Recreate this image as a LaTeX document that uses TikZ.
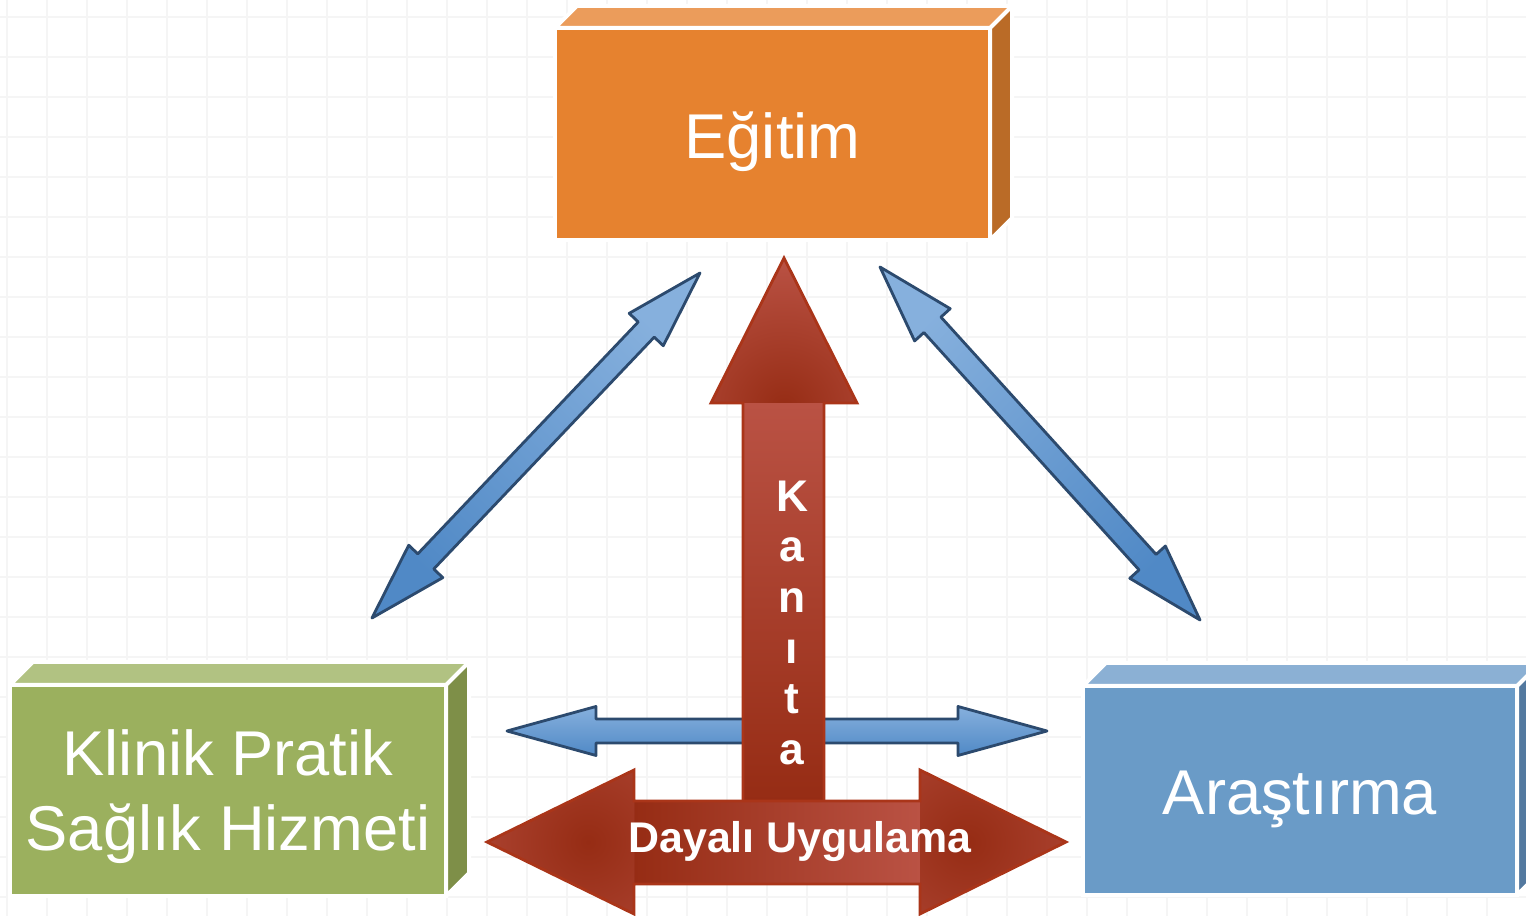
\documentclass[tikz,border=0pt]{standalone}
\usepackage{fontspec}
\setmainfont{Liberation Sans}
\usetikzlibrary{calc}
\definecolor{orangeF}{HTML}{E6822F}
\definecolor{orangeT}{HTML}{EB9C5B}
\definecolor{orangeS}{HTML}{BA6B27}
\definecolor{greenF}{HTML}{9BB05E}
\definecolor{greenT}{HTML}{B1C282}
\definecolor{greenS}{HTML}{7E8F48}
\definecolor{blueF}{HTML}{6A9BC7}
\definecolor{blueT}{HTML}{8BB0D4}
\definecolor{blueS}{HTML}{53799F}
\definecolor{redD}{HTML}{962C14}
\definecolor{redL}{HTML}{BA5244}
\definecolor{redE}{HTML}{AA3519}
\definecolor{arrowB}{HTML}{5089C6}
\definecolor{arrowBL}{HTML}{86B0DD}
\definecolor{arrowBD}{HTML}{2C4A6E}
\definecolor{gridc}{HTML}{F5F5F5}
\newcommand\dblblock[6]{%
  \coordinate (pa) at ($(#1)!#3!(#2)$);
  \coordinate (pb) at ($(#2)!#3!(#1)$);
  \path[#6] (#1) -- ($(pa)!#4!90:(#1)$) -- ($(pa)!#5!90:(#1)$)
    -- ($(pb)!#5!-90:(#2)$) -- ($(pb)!#4!-90:(#2)$) -- (#2)
    -- ($(pb)!#4!90:(#2)$) -- ($(pb)!#5!90:(#2)$)
    -- ($(pa)!#5!-90:(#1)$) -- ($(pa)!#4!-90:(#1)$) -- cycle;
}
\begin{document}
\begin{tikzpicture}[x=0.01cm,y=-0.01cm,
  boxface/.style={draw=white, line width=1.1pt, inner sep=0pt, outer sep=0pt,
    text=white, font=\fontsize{18}{21.6}\selectfont},
  sideface/.style={draw=white, line width=1.1pt, line join=round},
  barrow/.style={draw=arrowBD, line width=0.8pt, line join=round},
  redtext/.style={text=white, inner sep=0pt, font=\bfseries\fontsize{12.2}{14.4}\selectfont}]
\clip (0,0) rectangle (1526,916);
\fill[white] (0,0) rectangle (1526,916);
\foreach \x in {7,47,...,1527} \draw[gridc, line width=0.45pt] (\x,0) -- (\x,916);
\foreach \y in {17,57,...,917} \draw[gridc, line width=0.45pt] (0,\y) -- (1526,\y);

% boxes
\node[boxface, fill=orangeF, minimum width=4.35cm, minimum height=2.12cm,
  text height=13.8pt, text depth=0pt] (egitim) at (772.5,134) {Eğitim};
\filldraw[sideface, fill=orangeT] (egitim.north west) -- ++(22,-22) -- ($(egitim.north east)+(22,-22)$) -- (egitim.north east) -- cycle;
\filldraw[sideface, fill=orangeS] (egitim.north east) -- ++(22,-22) -- ($(egitim.south east)+(22,-22)$) -- (egitim.south east) -- cycle;

\node[boxface, fill=greenF, minimum width=4.36cm, minimum height=2.11cm, align=center,
  text height=34.4pt, text depth=0pt] (klinik) at (228,790.5) {Klinik Pratik\\Sağlık Hizmeti};
\filldraw[sideface, fill=greenT] (klinik.north west) -- ++(23,-23) -- ($(klinik.north east)+(23,-23)$) -- (klinik.north east) -- cycle;
\filldraw[sideface, fill=greenS] (klinik.north east) -- ++(23,-23) -- ($(klinik.south east)+(23,-23)$) -- (klinik.south east) -- cycle;

\node[boxface, fill=blueF, minimum width=4.34cm, minimum height=2.09cm,
  text height=13.8pt, text depth=0pt] (arastirma) at (1300,790.5) {Araştırma};
\filldraw[sideface, fill=blueT] (arastirma.north west) -- ++(23,-23) -- ($(arastirma.north east)+(23,-23)$) -- (arastirma.north east) -- cycle;
\filldraw[sideface, fill=blueS] (arastirma.north east) -- ++(23,-23) -- ($(arastirma.south east)+(23,-23)$) -- (arastirma.south east) -- cycle;

% blue double arrows
\coordinate (l1) at (700,273); \coordinate (l2) at (372,618);
\coordinate (r1) at (880,267); \coordinate (r2) at (1200,620);
\coordinate (h1) at (507,731); \coordinate (h2) at (1047,731);
\dblblock{l1}{l2}{0.78cm}{0.235cm}{0.11cm}{barrow, top color=arrowBL, bottom color=arrowB, shading angle=-45}
\dblblock{r1}{r2}{0.78cm}{0.24cm}{0.115cm}{barrow, top color=arrowBL, bottom color=arrowB, shading angle=45}
\dblblock{h1}{h2}{0.89cm}{0.245cm}{0.12cm}{barrow, top color=arrowBL, bottom color=arrowB}

% red vertical arrow
\coordinate (ktip) at (784,258);
\coordinate (kbot) at (784,802);
\fill[top color=redL, bottom color=redD] ($(ktip)+(-41,145)$) rectangle ($(kbot)+(40,0)$);
\path[fill=redL, path picture={\shade[inner color=redD, outer color=redL] ($(ktip)+(0,150)$) circle (150);}]
  (ktip) -- ++(73,145) -- ++(-146,0) -- cycle;
\draw[redE, line width=0.8pt, line join=miter] (ktip) -- ++(73,145) -- ++(-33,0) -- ($(kbot)+(40,0)$) -- ($(kbot)+(-41,0)$) -- ($(ktip)+(-41,145)$) -- ++(-32,0) -- cycle;

% red horizontal double arrow
\coordinate (dl) at (487,842);
\coordinate (dr) at (1066,842);
\fill[left color=redD, right color=redL] (634,801) rectangle (920,884);
\path[fill=redL, path picture={\shade[inner color=redD, outer color=redL] (588,842) circle (190);}]
  (dl) -- ++(147,-72) -- ++(0,144) -- cycle;
\path[fill=redL, path picture={\shade[inner color=redD, outer color=redL] (968,842) circle (190);}]
  (dr) -- ++(-146,-72) -- ++(0,144) -- cycle;
\draw[redE, line width=0.8pt, line join=miter] (dl) -- ++(147,-72) -- ++(0,31) -- ++(286,0) -- ++(0,-31) -- (dr) -- ++(-146,72) -- ++(0,-30) -- ++(-286,0) -- ++(0,30) -- cycle;

% red texts
\node[redtext, align=center, anchor=north, font=\bfseries\fontsize{12.6}{14.4}\selectfont] (kanita) at (792,480) {K\\a\\n\\ı\\t\\a};
\node[redtext, anchor=base] (dayali) at (800,853) {Dayalı Uygulama};
\end{tikzpicture}
\end{document}
